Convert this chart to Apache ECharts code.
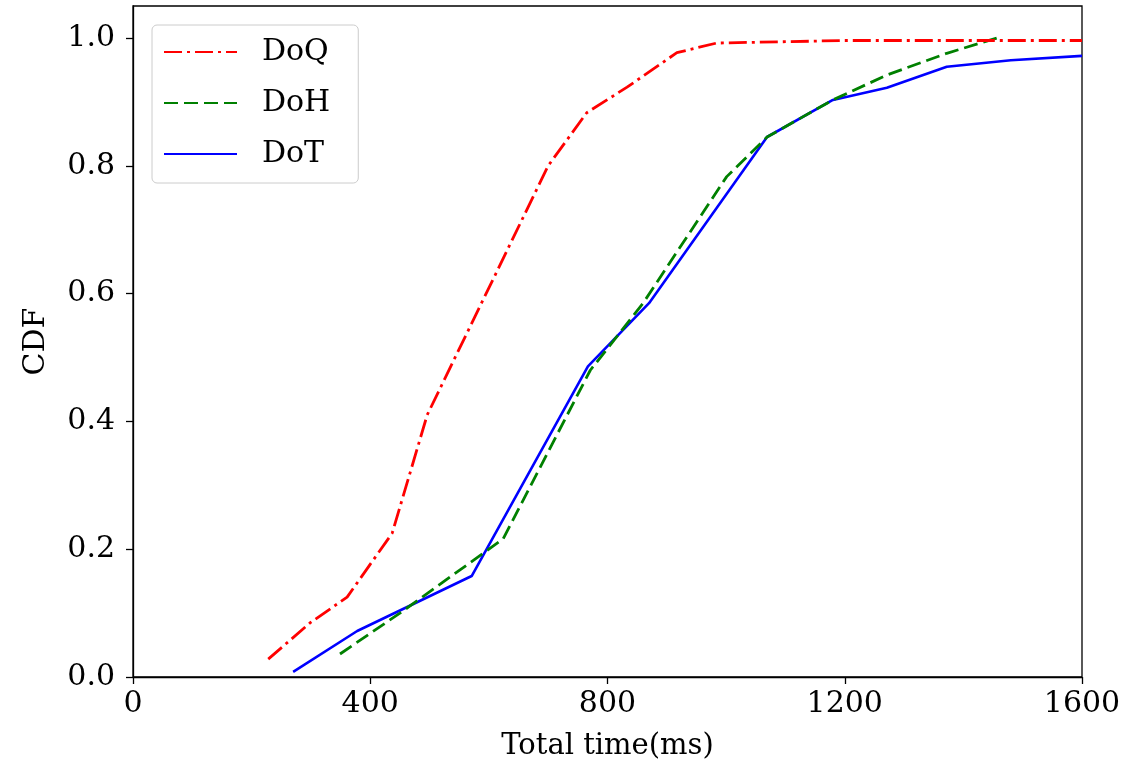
<!DOCTYPE html>
<html>
<head>
<meta charset="utf-8">
<script src="https://cdn.jsdelivr.net/npm/echarts@6/dist/echarts.min.js"></script>
<style>
  html, body { margin: 0; padding: 0; background: #fff; }
  #main { width: 1127px; height: 766px; }
</style>
</head>
<body>
<div id="main"></div>
<script>
// CDF 曲线数据，[时间(ms), 累计概率]
var doqData = [
  [228, 0.028], [299, 0.085], [361, 0.125], [437, 0.225], [496, 0.41],
  [700, 0.80], [765, 0.883], [833, 0.923], [917, 0.977], [984, 0.992],
  [1200, 0.996], [1600, 0.996]
];
var dohData = [
  [349, 0.036], [450, 0.10], [624, 0.216], [771, 0.48], [860, 0.585],
  [1001, 0.783], [1069, 0.845], [1180, 0.903], [1271, 0.942], [1372, 0.976],
  [1457, 1.0]
];
var dotData = [
  [270, 0.008], [378, 0.072], [571, 0.158], [767, 0.486], [870, 0.585],
  [1069, 0.845], [1180, 0.903], [1271, 0.922], [1372, 0.955], [1480, 0.965],
  [1600, 0.972]
];
var xTicks = [0, 400, 800, 1200, 1600];
var yTicks = [0, 0.2, 0.4, 0.6, 0.8, 1.0];

var font = 'DejaVu Serif';
var chart = echarts.init(document.getElementById('main'));

var option = {
  animation: false,
  backgroundColor: '#fff',
  grid: {
    left: 133,
    right: 45,
    top: 6,
    bottom: 88,
    show: true,
    borderColor: '#000',
    borderWidth: 1.3,
    backgroundColor: 'transparent'
  },
  legend: {
    orient: 'vertical',
    left: 152,
    top: 25,
    padding: [12, 28, 14, 11],
    itemGap: 21,
    itemWidth: 73,
    itemHeight: 14,
    backgroundColor: '#fff',
    borderColor: '#cccccc',
    borderWidth: 1,
    borderRadius: 5,
    itemStyle: { color: 'transparent', borderColor: 'transparent', borderWidth: 0 },
    textStyle: {
      fontFamily: font,
      fontSize: 30,
      lineHeight: 30,
      color: '#000',
      padding: [0, 0, 0, 20]
    },
    data: ['DoQ', 'DoH', 'DoT']
  },
  xAxis: {
    type: 'value',
    min: 0,
    max: 1600,
    interval: 400,
    name: 'Total time(ms)',
    nameLocation: 'middle',
    nameGap: 55,
    nameTextStyle: { fontFamily: font, fontSize: 29, color: '#000' },
    axisLine: { show: true, lineStyle: { color: '#000', width: 1.3 } },
    axisTick: { show: true, inside: false, length: 7, lineStyle: { color: '#000', width: 1.3 } },
    axisLabel: {
      fontFamily: font, fontSize: 30, color: '#000', margin: 12,
      customValues: xTicks,
      formatter: function (v) { return String(v); }
    },
    splitLine: { show: false }
  },
  yAxis: {
    type: 'value',
    min: 0,
    max: 1.05,
    interval: 0.2,
    name: 'CDF',
    nameLocation: 'middle',
    nameGap: 82,
    nameRotate: 90,
    nameTextStyle: { fontFamily: font, fontSize: 30, color: '#000' },
    axisLine: { show: true, lineStyle: { color: '#000', width: 1.3 } },
    axisTick: {
      show: true, inside: false, length: 7,
      lineStyle: { color: '#000', width: 1.3 },
      customValues: yTicks
    },
    axisLabel: {
      fontFamily: font, fontSize: 30, color: '#000', margin: 18,
      customValues: yTicks,
      formatter: function (v) { return v.toFixed(1); }
    },
    splitLine: { show: false }
  },
  series: [
    {
      name: 'DoQ',
      type: 'line',
      data: doqData,
      symbol: 'none',
      z: 3,
      lineStyle: { color: '#ff0000', width: 2.8, type: [18, 5, 3, 5], cap: 'butt' },
      itemStyle: { color: '#ff0000' }
    },
    {
      name: 'DoH',
      type: 'line',
      data: dohData,
      symbol: 'none',
      z: 2,
      lineStyle: { color: '#008000', width: 2.8, type: [14, 6], cap: 'butt' },
      itemStyle: { color: '#008000' }
    },
    {
      name: 'DoT',
      type: 'line',
      data: dotData,
      symbol: 'none',
      z: 1,
      lineStyle: { color: '#0000ff', width: 2.6, type: 'solid' },
      itemStyle: { color: '#0000ff' }
    }
  ]
};

chart.setOption(option);
</script>
</body>
</html>
